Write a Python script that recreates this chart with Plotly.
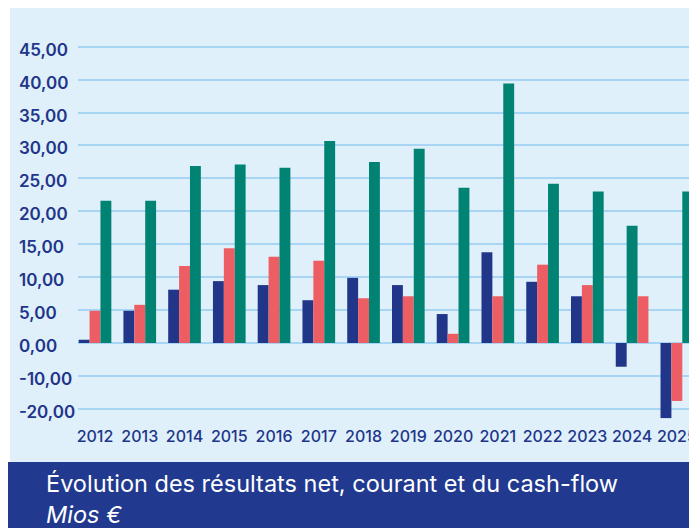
import plotly.graph_objects as go

# ---------------- data ----------------
years = ["2012", "2013", "2014", "2015", "2016", "2017", "2018",
         "2019", "2020", "2021", "2022", "2023", "2024", "2025"]
resultat_net = [0.5, 4.9, 8.1, 9.4, 8.8, 6.5, 9.9, 8.8, 4.4, 13.8, 9.3, 7.1, -3.6, -11.4]
resultat_courant = [4.9, 5.8, 11.7, 14.4, 13.1, 12.5, 6.8, 7.1, 1.4, 7.1, 11.9, 8.8, 7.1, -8.8]
cash_flow = [21.6, 21.6, 26.9, 27.1, 26.6, 30.7, 27.5, 29.5, 23.6, 39.4, 24.2, 23.0, 17.8, 23.0]
# years where the original draws cash-flow in the middle slot and courant last
swapped_years = ["2024"]

tick_values = [-10, -5, 0, 5, 10, 15, 20, 25, 30, 35, 40, 45]
tick_labels = ["-20,00", "-10,00", "0,00", "5,00", "10,00", "15,00", "20,00",
               "25,00", "30,00", "35,00", "40,00", "45,00"]

title_line1 = "Évolution des résultats net, courant et du cash-flow"
title_line2 = "Mios €"

# ---------------- style ----------------
NAVY = "#213589"
RED = "#ec5e63"
GREEN = "#008373"
BAND = "#213a8f"
BG = "#dff0fb"
GRID = "#a8d5f3"

OFF = 8                      # page body margin around the figure
W, H = 697 - OFF, 528 - OFF
ML, MR, MT, MB = 78 - OFF, 0, 8 - OFF, 528 - 425
PW, PH = W - ML - MR, H - MT - MB


def px_x(x):                 # page pixel -> paper x
    return (x - OFF - ML) / PW


def px_y(y):                 # page pixel -> paper y
    return (H - MB - (y - OFF)) / PH


mid_vals, mid_cols, last_vals, last_cols = [], [], [], []
for y, c, cf in zip(years, resultat_courant, cash_flow):
    if y in swapped_years:
        mid_vals.append(cf); mid_cols.append(GREEN)
        last_vals.append(c); last_cols.append(RED)
    else:
        mid_vals.append(c); mid_cols.append(RED)
        last_vals.append(cf); last_cols.append(GREEN)

fig = go.Figure()
fig.add_trace(go.Bar(x=years, y=resultat_net, marker=dict(color=NAVY, line=dict(width=0)),
                     name="Résultat net"))
fig.add_trace(go.Bar(x=years, y=mid_vals, marker=dict(color=mid_cols, line=dict(width=0)),
                     name="Résultat courant"))
fig.add_trace(go.Bar(x=years, y=last_vals, marker=dict(color=last_cols, line=dict(width=0)),
                     name="Cash-flow"))

shapes = [
    dict(type="rect", xref="paper", yref="paper", layer="below",
         x0=px_x(10), x1=1.0, y0=px_y(462), y1=1.0,
         fillcolor=BG, line=dict(width=0)),
    dict(type="rect", xref="paper", yref="paper", layer="below",
         x0=px_x(OFF), x1=1.0, y0=px_y(528), y1=px_y(462),
         fillcolor=BAND, line=dict(width=0)),
]

annotations = []
for v, t in zip(tick_values, tick_labels):
    annotations.append(dict(
        x=px_x(17), xref="paper", y=v, yref="y", text=t, showarrow=False,
        xanchor="left", yanchor="middle", yshift=-3,
        font=dict(family="Inter, Lato, sans-serif", size=17, color=NAVY, weight=600)))

annotations.append(dict(
    x=px_x(44), xref="paper", y=px_y(498.5), yref="paper",
    text=title_line1 + "<br><i>" + title_line2 + "</i>",
    showarrow=False, xanchor="left", yanchor="middle", align="left",
    font=dict(family="Inter, Liberation Sans, sans-serif", size=23.5, color="white")))

fig.update_layout(
    width=W, height=H,
    margin=dict(l=ML, r=MR, t=MT, b=MB, pad=0),
    paper_bgcolor="white",
    plot_bgcolor=BG,
    barmode="group",
    bargap=0.27,
    bargroupgap=0,
    showlegend=False,
    shapes=shapes,
    annotations=annotations,
    xaxis=dict(type="category", range=[-0.38, 13.45], showgrid=False,
               zeroline=False, showline=False, ticks="",
               tickfont=dict(family="Inter, Lato, sans-serif", size=16, color=NAVY, weight=500)),
    yaxis=dict(range=[-12.45, 50.88], tickvals=tick_values, showticklabels=False,
               showgrid=True, gridcolor=GRID, gridwidth=2, zeroline=False,
               showline=False, ticks=""),
)

fig.write_html("out.html")
